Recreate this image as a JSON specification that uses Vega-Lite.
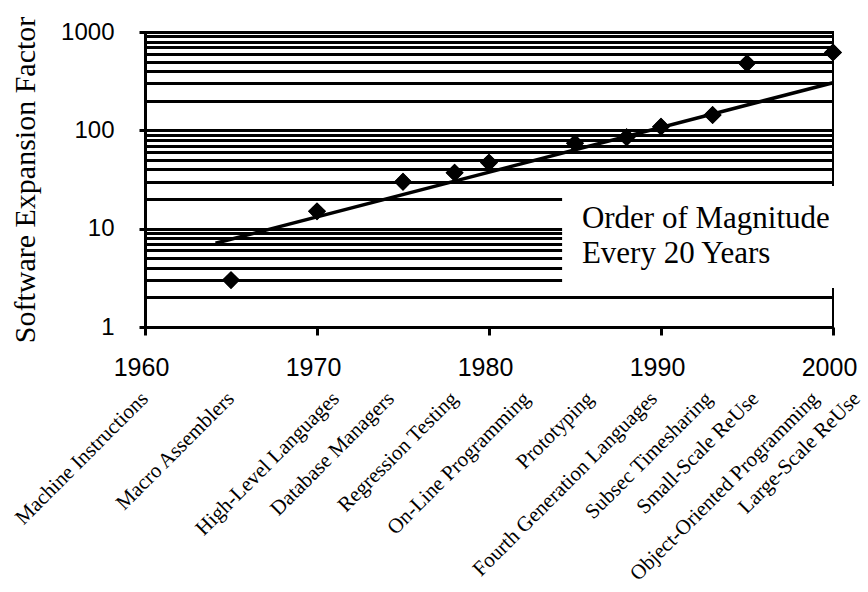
{
  "$schema": "https://vega.github.io/schema/vega-lite/v6.json",
  "width": 688,
  "height": 295,
  "autosize": {"type": "none"},
  "padding": {"left": 145, "top": 32, "right": 35, "bottom": 265},
  "background": "white",
  "config": {
    "view": {"stroke": "black", "strokeWidth": 2},
    "font": "Liberation Sans"
  },
  "datasets": {
    "points": [
      {"year": 1965, "factor": 3, "technology": "Macro Assemblers"},
      {"year": 1970, "factor": 15, "technology": "High-Level Languages"},
      {"year": 1975, "factor": 30, "technology": "Database Managers"},
      {"year": 1978, "factor": 37, "technology": "Regression Testing"},
      {"year": 1980, "factor": 47, "technology": "On-Line Programming"},
      {"year": 1985, "factor": 74, "technology": "Prototyping"},
      {"year": 1988, "factor": 85, "technology": "Fourth Generation Languages"},
      {"year": 1990, "factor": 109, "technology": "Subsec Timesharing"},
      {"year": 1993, "factor": 143, "technology": "Small-Scale ReUse"},
      {"year": 1995, "factor": 480, "technology": "Object-Oriented Programming"},
      {"year": 2000, "factor": 620, "technology": "Large-Scale ReUse"}
    ],
    "trend": [
      {"year": 1964.1, "factor": 7.1},
      {"year": 2000, "factor": 305}
    ],
    "labels": [
      {"labelYear": 1960.0, "technology": "Machine Instructions"},
      {"labelYear": 1965.0, "technology": "Macro Assemblers"},
      {"labelYear": 1971.1, "technology": "High-Level Languages"},
      {"labelYear": 1974.3, "technology": "Database Managers"},
      {"labelYear": 1978.0, "technology": "Regression Testing"},
      {"labelYear": 1982.2, "technology": "On-Line Programming"},
      {"labelYear": 1985.9, "technology": "Prototyping"},
      {"labelYear": 1989.6, "technology": "Fourth Generation Languages"},
      {"labelYear": 1992.8, "technology": "Subsec Timesharing"},
      {"labelYear": 1995.5, "technology": "Small-Scale ReUse"},
      {"labelYear": 1999.0, "technology": "Object-Oriented Programming"},
      {"labelYear": 2001.4, "technology": "Large-Scale ReUse"}
    ]
  },
  "layer": [
    {
      "data": {"name": "points"},
      "mark": {"type": "point", "shape": "diamond", "filled": true, "color": "black", "size": 320, "opacity": 1},
      "encoding": {
        "x": {
          "field": "year", "type": "quantitative",
          "scale": {"domain": [1960, 2000], "nice": false, "zero": false},
          "axis": {
            "title": null,
            "values": [1960, 1970, 1980, 1990, 2000],
            "format": "d",
            "labelFont": "Liberation Sans", "labelFontSize": 25, "labelColor": "black",
            "labelPadding": 20, "labelOffset": -4,
            "labelFlush": false, "labelOverlap": false, "labelBound": false,
            "tickSize": 8, "tickWidth": 3, "tickColor": "black",
            "domainColor": "black", "domainWidth": 3,
            "grid": false
          }
        },
        "y": {
          "field": "factor", "type": "quantitative",
          "scale": {"type": "log", "domain": [1, 1000], "nice": false},
          "axis": {
            "title": "Software Expansion Factor",
            "titleFont": "Liberation Serif", "titleFontSize": 30, "titleFontWeight": "normal",
            "titleColor": "black", "titlePadding": 20,
            "values": [1, 2, 3, 4, 5, 6, 7, 8, 9, 10, 20, 30, 40, 50, 60, 70, 80, 90, 100, 200, 300, 400, 500, 600, 700, 800, 900, 1000],
            "format": "d",
            "labelExpr": "(datum.value == 1 || datum.value == 10 || datum.value == 100 || datum.value == 1000) ? datum.label : ''",
            "labelFont": "Liberation Sans", "labelFontSize": 24, "labelColor": "black",
            "labelPadding": 25, "labelOverlap": false, "labelBound": false, "labelFlush": false,
            "tickSize": 6, "tickWidth": 3, "tickColor": "black",
            "tickOpacity": {"condition": {"test": "datum.value == 1 || datum.value == 10 || datum.value == 100 || datum.value == 1000", "value": 1}, "value": 0},
            "grid": true, "gridColor": "black", "gridWidth": 3, "gridOpacity": 1,
            "domainColor": "black", "domainWidth": 3
          }
        }
      }
    },
    {
      "data": {"values": [{}]},
      "mark": {"type": "rect", "fill": "white", "stroke": null},
      "encoding": {
        "x": {"datum": 1984.25},
        "x2": {"datum": 2000.4},
        "y": {"datum": 27.2},
        "y2": {"datum": 2.49}
      }
    },
    {
      "data": {"values": [{}]},
      "mark": {
        "type": "text",
        "text": ["Order of Magnitude", "Every 20 Years"],
        "font": "Liberation Serif", "fontSize": 31, "align": "left", "baseline": "alphabetic",
        "lineHeight": 35, "color": "black"
      },
      "encoding": {
        "x": {"datum": 1985.4},
        "y": {"datum": 10.2}
      }
    },
    {
      "data": {"name": "trend"},
      "mark": {"type": "line", "color": "black", "strokeWidth": 3.5},
      "encoding": {
        "x": {"field": "year", "type": "quantitative", "title": null},
        "y": {"field": "factor", "type": "quantitative"}
      }
    },
    {
      "data": {"name": "points"},
      "mark": {"type": "point", "shape": "diamond", "filled": true, "color": "black", "size": 320, "opacity": 1},
      "encoding": {
        "x": {"field": "year", "type": "quantitative", "title": null},
        "y": {"field": "factor", "type": "quantitative"}
      }
    },
    {
      "data": {"name": "labels"},
      "mark": {
        "type": "text", "angle": 315, "align": "right", "baseline": "middle",
        "font": "Liberation Serif", "fontSize": 21, "color": "black"
      },
      "encoding": {
        "x": {"field": "labelYear", "type": "quantitative", "title": null},
        "y": {"datum": 0.2},
        "text": {"field": "technology", "type": "nominal"}
      }
    }
  ]
}
